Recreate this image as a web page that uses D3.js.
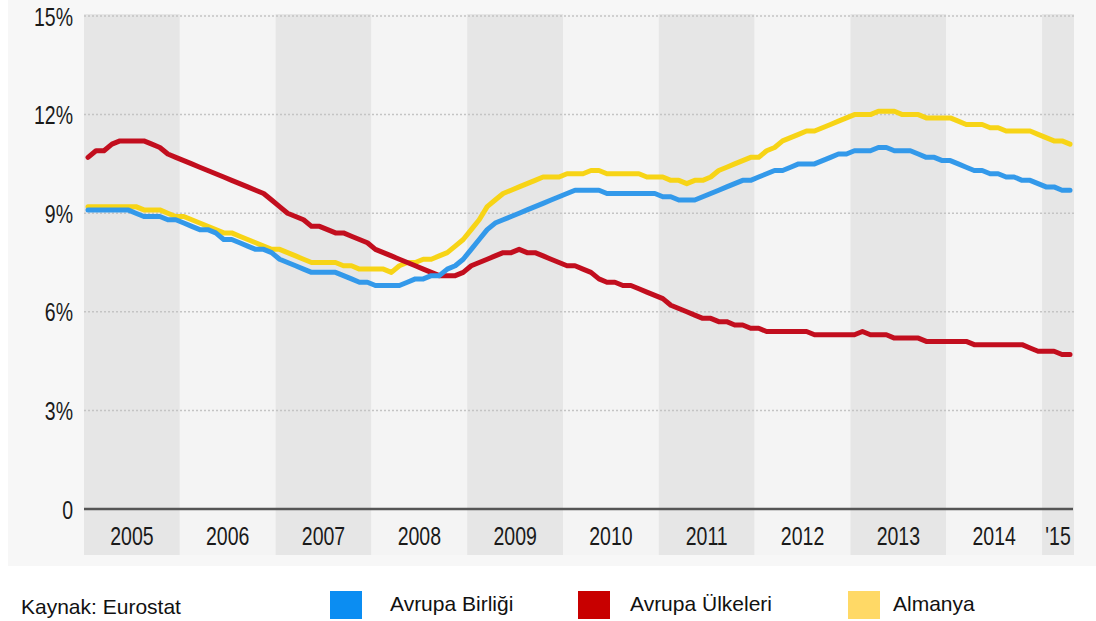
<!DOCTYPE html>
<html>
<head>
<meta charset="utf-8">
<script src="https://cdn.jsdelivr.net/npm/d3@7"></script>
<style>
  body { margin: 0; background: #fff; }
  svg { display: block; }
</style>
</head>
<body>
<script>
// monthly values, Jan 2005 .. Apr 2015
const EU = [
  9.1, 9.1, 9.1, 9.1, 9.1, 9.1, 9.0, 8.9, 8.9, 8.9, 8.8, 8.8,
  8.7, 8.6, 8.5, 8.5, 8.4, 8.2, 8.2, 8.1, 8.0, 7.9, 7.9, 7.8,
  7.6, 7.5, 7.4, 7.3, 7.2, 7.2, 7.2, 7.2, 7.1, 7.0, 6.9, 6.9,
  6.8, 6.8, 6.8, 6.8, 6.9, 7.0, 7.0, 7.1, 7.1, 7.3, 7.4, 7.6,
  7.9, 8.2, 8.5, 8.7, 8.8, 8.9, 9.0, 9.1, 9.2, 9.3, 9.4, 9.5,
  9.6, 9.7, 9.7, 9.7, 9.7, 9.6, 9.6, 9.6, 9.6, 9.6, 9.6, 9.6,
  9.5, 9.5, 9.4, 9.4, 9.4, 9.5, 9.6, 9.7, 9.8, 9.9, 10.0, 10.0,
  10.1, 10.2, 10.3, 10.3, 10.4, 10.5, 10.5, 10.5, 10.6, 10.7, 10.8, 10.8,
  10.9, 10.9, 10.9, 11.0, 11.0, 10.9, 10.9, 10.9, 10.8, 10.7, 10.7, 10.6,
  10.6, 10.5, 10.4, 10.3, 10.3, 10.2, 10.2, 10.1, 10.1, 10.0, 10.0, 9.9,
  9.8, 9.8, 9.7, 9.7
]
const EUROPE = [
  10.7, 10.9, 10.9, 11.1, 11.2, 11.2, 11.2, 11.2, 11.1, 11.0, 10.8, 10.7,
  10.6, 10.5, 10.4, 10.3, 10.2, 10.1, 10.0, 9.9, 9.8, 9.7, 9.6, 9.4,
  9.2, 9.0, 8.9, 8.8, 8.6, 8.6, 8.5, 8.4, 8.4, 8.3, 8.2, 8.1,
  7.9, 7.8, 7.7, 7.6, 7.5, 7.4, 7.3, 7.2, 7.1, 7.1, 7.1, 7.2,
  7.4, 7.5, 7.6, 7.7, 7.8, 7.8, 7.9, 7.8, 7.8, 7.7, 7.6, 7.5,
  7.4, 7.4, 7.3, 7.2, 7.0, 6.9, 6.9, 6.8, 6.8, 6.7, 6.6, 6.5,
  6.4, 6.2, 6.1, 6.0, 5.9, 5.8, 5.8, 5.7, 5.7, 5.6, 5.6, 5.5,
  5.5, 5.4, 5.4, 5.4, 5.4, 5.4, 5.4, 5.3, 5.3, 5.3, 5.3, 5.3,
  5.3, 5.4, 5.3, 5.3, 5.3, 5.2, 5.2, 5.2, 5.2, 5.1, 5.1, 5.1,
  5.1, 5.1, 5.1, 5.0, 5.0, 5.0, 5.0, 5.0, 5.0, 5.0, 4.9, 4.8,
  4.8, 4.8, 4.7, 4.7
]
const GERMANY = [
  9.2, 9.2, 9.2, 9.2, 9.2, 9.2, 9.2, 9.1, 9.1, 9.1, 9.0, 8.9,
  8.9, 8.8, 8.7, 8.6, 8.5, 8.4, 8.4, 8.3, 8.2, 8.1, 8.0, 7.9,
  7.9, 7.8, 7.7, 7.6, 7.5, 7.5, 7.5, 7.5, 7.4, 7.4, 7.3, 7.3,
  7.3, 7.3, 7.2, 7.4, 7.5, 7.5, 7.6, 7.6, 7.7, 7.8, 8.0, 8.2,
  8.5, 8.8, 9.2, 9.4, 9.6, 9.7, 9.8, 9.9, 10.0, 10.1, 10.1, 10.1,
  10.2, 10.2, 10.2, 10.3, 10.3, 10.2, 10.2, 10.2, 10.2, 10.2, 10.1, 10.1,
  10.1, 10.0, 10.0, 9.9, 10.0, 10.0, 10.1, 10.3, 10.4, 10.5, 10.6, 10.7,
  10.7, 10.9, 11.0, 11.2, 11.3, 11.4, 11.5, 11.5, 11.6, 11.7, 11.8, 11.9,
  12.0, 12.0, 12.0, 12.1, 12.1, 12.1, 12.0, 12.0, 12.0, 11.9, 11.9, 11.9,
  11.9, 11.8, 11.7, 11.7, 11.7, 11.6, 11.6, 11.5, 11.5, 11.5, 11.5, 11.4,
  11.3, 11.2, 11.2, 11.1
]
const YEARS = [2005, 2006, 2007, 2008, 2009, 2010, 2011, 2012, 2013, 2014, 2015]
const YEAR_LABELS = ['2005', '2006', '2007', '2008', '2009', '2010', '2011', '2012', '2013', '2014', "'15"]
const Y_TICKS = [0, 3, 6, 9, 12, 15]
const SERIES_NAMES = ['Avrupa Birliği', 'Avrupa Ülkeleri', 'Almanya']

const WIDTH = 1096
const HEIGHT = 621
const END = 2015 + 4 / 12
const NARROW = 0.78 // police condensée simulée

const svg = d3.select('body').append('svg')
  .attr('width', WIDTH)
  .attr('height', HEIGHT)

const x = d3.scaleLinear().domain([2005, END]).range([84, 1074])
const y = d3.scaleLinear().domain([0, 15]).range([509, 16])

// fond gris clair
svg.append('rect')
  .attr('x', 8).attr('y', 0)
  .attr('width', WIDTH - 8).attr('height', 566)
  .attr('fill', '#f7f7f7')

// bandes des années (une sur deux plus foncée)
svg.append('g').selectAll('rect')
  .data(YEARS)
  .enter()
  .append('rect')
  .attr('x', d => x(d))
  .attr('y', 14)
  .attr('width', d => x(Math.min(d + 1, END)) - x(d))
  .attr('height', 555 - 14)
  .attr('fill', (d, i) => i % 2 === 0 ? '#e6e6e6' : '#f4f4f4')

// grille pointillée
svg.append('g').selectAll('line')
  .data(Y_TICKS.filter(d => d > 0))
  .enter()
  .append('line')
  .attr('x1', x(2005)).attr('x2', x(END))
  .attr('y1', d => y(d)).attr('y2', d => y(d))
  .attr('stroke', '#c4c4c4')
  .attr('stroke-width', 1.5)
  .attr('stroke-dasharray', '2,2')

// axe y
const yAxis = svg.append('g')
  .attr('transform', 'translate(73,0)')
  .call(d3.axisLeft(y).tickValues(Y_TICKS).tickSize(0).tickPadding(0)
    .tickFormat(d => d === 0 ? '0' : d + '%'))
yAxis.select('.domain').remove()
yAxis.selectAll('text')
  .attr('x', null)
  .attr('dy', '0.36em')
  .attr('transform', `scale(${NARROW},1)`)
  .attr('font-family', '"Liberation Sans", sans-serif')
  .attr('font-size', 25)
  .attr('fill', '#1a1a1a')

// ligne zéro
svg.append('line')
  .attr('x1', x(2005)).attr('x2', x(END) - 1)
  .attr('y1', y(0)).attr('y2', y(0))
  .attr('stroke', '#555')
  .attr('stroke-width', 2.5)

// années
svg.append('g').selectAll('text')
  .data(YEARS)
  .enter()
  .append('text')
  .attr('transform', d => `translate(${(x(d) + x(Math.min(d + 1, END))) / 2},545) scale(${NARROW},1)`)
  .attr('text-anchor', 'middle')
  .attr('font-family', '"Liberation Sans", sans-serif')
  .attr('font-size', 25)
  .attr('fill', '#1a1a1a')
  .text((d, i) => YEAR_LABELS[i])

// courbes
const line = d3.line()
  .x((d, i) => x(2005 + (i + 0.5) / 12))
  .y(d => y(d))

const series = [
  { name: SERIES_NAMES[2], values: GERMANY, color: '#f7d416' },
  { name: SERIES_NAMES[1], values: EUROPE, color: '#c20e1e' },
  { name: SERIES_NAMES[0], values: EU, color: '#3399ea' }
]

svg.append('g').selectAll('path')
  .data(series)
  .enter()
  .append('path')
  .attr('d', d => line(d.values))
  .attr('fill', 'none')
  .attr('stroke', d => d.color)
  .attr('stroke-width', 5)
  .attr('stroke-linejoin', 'round')
  .attr('stroke-linecap', 'round')

// source
svg.append('text')
  .attr('x', 21)
  .attr('y', 614)
  .attr('font-family', '"Liberation Sans", Arial, sans-serif')
  .attr('font-size', 21)
  .attr('fill', '#111')
  .text('Kaynak: Eurostat')

// légende
const LEGEND = [
  { name: SERIES_NAMES[0], color: '#0b8df2', x: 330, tx: 390 },
  { name: SERIES_NAMES[1], color: '#c80000', x: 578, tx: 630 },
  { name: SERIES_NAMES[2], color: '#ffd966', x: 848, tx: 893 }
]

const legend = svg.append('g')

legend.selectAll('rect')
  .data(LEGEND)
  .enter()
  .append('rect')
  .attr('x', d => d.x)
  .attr('y', 591)
  .attr('width', 32)
  .attr('height', 28)
  .attr('fill', d => d.color)

legend.selectAll('text')
  .data(LEGEND)
  .enter()
  .append('text')
  .attr('x', d => d.tx)
  .attr('y', 611)
  .attr('font-family', '"Liberation Sans", Arial, sans-serif')
  .attr('font-size', 21)
  .attr('fill', '#111')
  .text(d => d.name)
</script>
</body>
</html>
